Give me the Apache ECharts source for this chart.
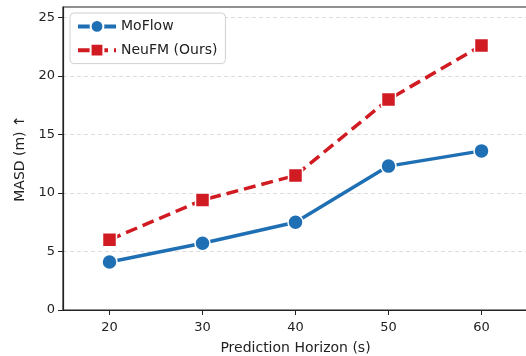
<!DOCTYPE html>
<html>
<head>
<meta charset="utf-8">
<script src="https://cdn.jsdelivr.net/npm/echarts@6/dist/echarts.min.js"></script>
<style>
  html, body { margin: 0; padding: 0; background: #fff; }
  #chart { width: 526px; height: 356px; }
</style>
</head>
<body>
<div id="chart"></div>
<script>
// prediction horizon (s)
const horizons = [20, 30, 40, 50, 60]
const moflow = [4.1, 5.7, 7.5, 12.3, 13.6]
const neufm = [6.0, 9.4, 11.5, 18.0, 22.6]
const yTicks = [0, 5, 10, 15, 20, 25]

const font = 'DejaVu Sans'
const blue = '#1f6fb4'
const red = '#d11b22'

const chart = echarts.init(document.getElementById('chart'))
chart.setOption({
  animation: false,
  textStyle: { fontFamily: font },
  grid: {
    left: 63,
    top: 7,
    right: -2,
    bottom: 46,
    containLabel: false,
    outerBoundsMode: 'none',
    show: true,
    borderColor: '#222',
    borderWidth: 1.2
  },
  legend: {
    left: 70,
    top: 13,
    orient: 'vertical',
    padding: [6, 8, 6, 6],
    itemGap: 9,
    itemWidth: 38,
    itemHeight: 16,
    borderColor: '#d0d0d0',
    borderWidth: 1,
    borderRadius: 4,
    backgroundColor: '#fff',
    lineStyle: { width: 4 },
    textStyle: { fontFamily: font, fontSize: 14, color: '#222' },
    data: ['MoFlow', 'NeuFM (Ours)']
  },
  xAxis: {
    type: 'value',
    min: 15,
    max: 65,
    name: 'Prediction Horizon (s)',
    nameLocation: 'middle',
    nameGap: 31,
    nameTextStyle: { fontFamily: font, fontSize: 14, color: '#222' },
    axisLine: { show: true, lineStyle: { color: '#222', width: 1.2 } },
    axisTick: { show: true, length: 5, customValues: horizons, lineStyle: { color: '#222' } },
    axisLabel: { customValues: horizons, fontSize: 13, color: '#222', margin: 11 },
    splitLine: { show: false }
  },
  yAxis: {
    type: 'value',
    min: 0,
    max: 25.9,
    interval: 5,
    name: 'MASD (m) ↑',
    nameLocation: 'middle',
    nameGap: 36,
    nameTextStyle: { fontFamily: font, fontSize: 14, color: '#222' },
    axisLine: { show: true, lineStyle: { color: '#222', width: 1.2 } },
    axisTick: { show: true, length: 5, customValues: yTicks, lineStyle: { color: '#222' } },
    axisLabel: { customValues: yTicks, fontSize: 13, color: '#222', margin: 8 },
    splitLine: { show: true, lineStyle: { color: '#dddddd', type: [4, 3], width: 1 } }
  },
  series: [
    {
      name: 'MoFlow',
      type: 'line',
      data: horizons.map((x, i) => [x, moflow[i]]),
      symbol: 'circle',
      symbolSize: 15,
      lineStyle: { color: blue, width: 3.5 },
      itemStyle: { color: blue, borderColor: '#fff', borderWidth: 1.5 },
      z: 3
    },
    {
      name: 'NeuFM (Ours)',
      type: 'line',
      data: horizons.map((x, i) => [x, neufm[i]]),
      symbol: 'rect',
      symbolSize: 14,
      lineStyle: { color: red, width: 3.5, type: [12, 6] },
      itemStyle: { color: red, borderColor: '#fff', borderWidth: 1.5 },
      z: 4
    }
  ]
})
</script>
</body>
</html>
